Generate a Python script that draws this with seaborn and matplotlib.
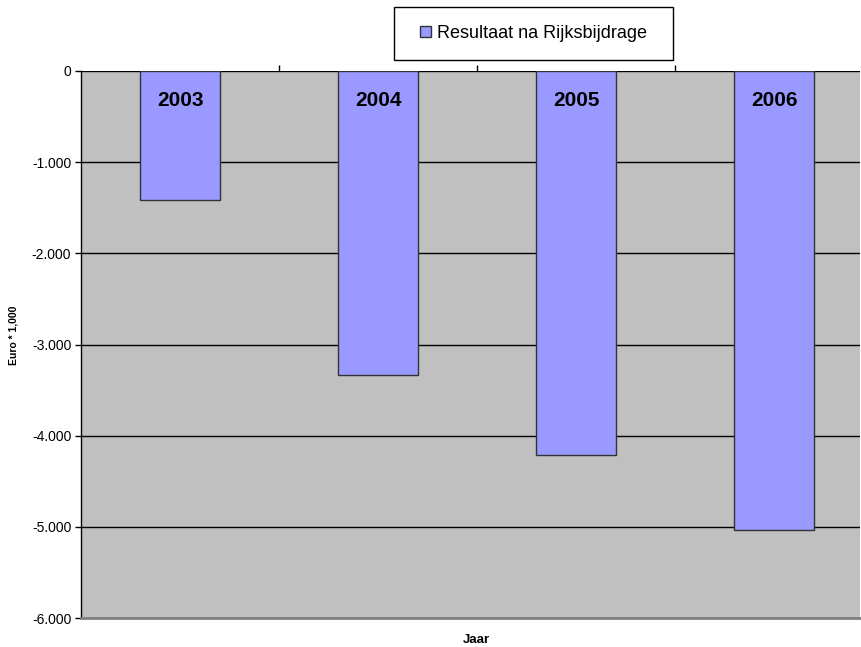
import numpy as np
import pandas as pd
import matplotlib
matplotlib.use('Agg')
import matplotlib.pyplot as plt
import matplotlib.patches as mpatches
import seaborn as sns

# data
jaren = ['2003', '2004', '2005', '2006']
resultaat = [-1415, -3335, -4210, -5030]
reeks_naam = 'Resultaat na Rijksbijdrage'

df = pd.DataFrame({'Jaar': jaren, 'Resultaat': resultaat})

sns.set_style('white')
plt.rcParams['font.family'] = ['Liberation Sans', 'DejaVu Sans']
plt.rcParams['text.color'] = 'black'
plt.rcParams['xtick.color'] = 'black'
plt.rcParams['ytick.color'] = 'black'

fig = plt.figure(figsize=(8.61, 6.47), dpi=100)
ax = fig.add_axes([81/861, 1-618/647, 779/861, 547/647])
ax.set_facecolor('#C0C0C0')

sns.barplot(data=df, x='Jaar', y='Resultaat', color='#9999FF', width=0.4,
            edgecolor='#333333', linewidth=1, saturation=1, ax=ax, zorder=3)

ax.set_ylim(-6000, 0)
ax.set_xlim(-0.5, -0.5 + 779/198)
ax.set_yticks(np.arange(-6000, 1, 1000))
ax.set_yticklabels(['-6.000', '-5.000', '-4.000', '-3.000', '-2.000', '-1.000', '0'], fontsize=10)
ax.yaxis.grid(True, color='black', linewidth=1, zorder=0)
ax.set_axisbelow(True)

# jaartallen in de balken
for i, j in enumerate(jaren):
    ax.annotate(j, xy=(i, 0), xytext=(0, -21.6), textcoords='offset points',
                ha='center', va='center', fontsize=15, fontweight='bold', zorder=5)

# streepjes bovenaan tussen de categorieen
ax.xaxis.set_ticks_position('top')
ax.set_xticks([0.5, 1.5, 2.5])
ax.set_xticklabels([])
ax.tick_params(axis='x', direction='out', length=4, width=1, color='black', top=True, bottom=False)
ax.tick_params(axis='y', direction='out', length=4, width=1, color='black', left=True, pad=3)

for s in ['top', 'right']:
    ax.spines[s].set_visible(False)
ax.spines['left'].set_color('black')
ax.spines['left'].set_linewidth(1)
ax.spines['bottom'].set_color('#808080')
ax.spines['bottom'].set_linewidth(2)

ax.set_xlabel('')
ax.set_ylabel('')
fig.text(14/861, 1-335/647, 'Euro * 1,000', fontsize=7.5, fontweight='bold',
         rotation=90, ha='center', va='center')
fig.text(476/861, 1-640/647, 'Jaar', fontsize=9.5, fontweight='bold', ha='center', va='center')

# legenda met eigen kader
kader = mpatches.Rectangle((394/861, 1-60/647), 279/861, 53/647, transform=fig.transFigure,
                           facecolor='white', edgecolor='black', linewidth=1)
fig.patches.append(kader)
handle = mpatches.Patch(facecolor='#9999FF', edgecolor='#333333', label=reeks_naam)
leg = fig.legend(handles=[handle], loc='center', bbox_to_anchor=(533.5/861, 1-33.5/647),
                 fontsize=13, frameon=False,
                 handlelength=0.6, handleheight=0.6, handletextpad=0.3,
                 borderpad=0, borderaxespad=0)

plt.savefig('out.png', dpi=100)
